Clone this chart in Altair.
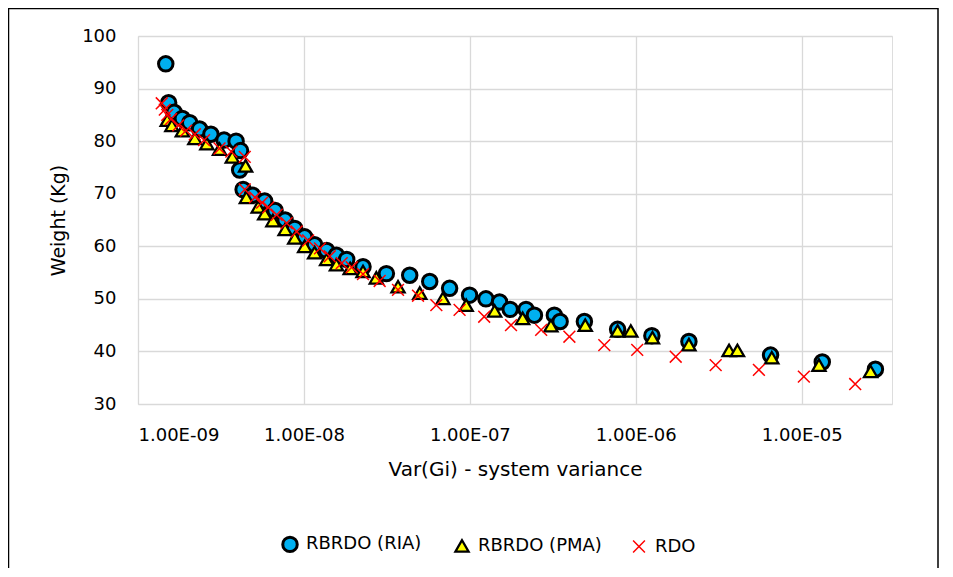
import altair as alt
import pandas as pd

# RBRDO (RIA) series
ria_x = [1.47e-9, 1.53e-9, 1.65e-9, 1.85e-9, 2.05e-9, 2.35e-9, 2.75e-9, 3.3e-9, 3.9e-9,
         4.15e-9, 4.1e-9, 4.3e-9, 4.9e-9, 5.8e-9, 6.7e-9, 7.7e-9, 8.8e-9, 1.01e-8,
         1.16e-8, 1.37e-8, 1.57e-8, 1.81e-8, 2.27e-8, 3.14e-8, 4.34e-8, 5.73e-8,
         7.55e-8, 9.96e-8, 1.25e-7, 1.51e-7, 1.75e-7, 2.18e-7, 2.45e-7, 3.23e-7,
         3.5e-7, 4.9e-7, 7.77e-7, 1.25e-6, 2.09e-6, 6.49e-6, 1.33e-5, 2.78e-5]
ria_y = [94.7, 87.3, 85.5, 84.3, 83.5, 82.3, 81.3, 80.2, 80.0,
         78.2, 74.5, 70.8, 69.7, 68.6, 66.8, 65.0, 63.4, 61.8,
         60.3, 59.2, 58.3, 57.5, 56.1, 54.8, 54.5, 53.3,
         52.0, 50.7, 50.0, 49.4, 48.0, 48.0, 46.9, 46.9,
         45.7, 45.7, 44.2, 43.0, 41.9, 39.3, 38.0, 36.6]

# RBRDO (PMA) series
pma_x = [1.5e-9, 1.6e-9, 1.85e-9, 2.2e-9, 2.6e-9, 3.1e-9, 3.7e-9, 4.45e-9, 4.5e-9,
         5.3e-9, 5.8e-9, 6.5e-9, 7.7e-9, 8.8e-9, 1.01e-8, 1.16e-8, 1.37e-8, 1.57e-8,
         1.9e-8, 2.27e-8, 2.73e-8, 3.69e-8, 4.99e-8, 6.88e-8, 9.5e-8, 1.41e-7,
         2.08e-7, 3.08e-7, 4.96e-7, 7.77e-7, 9.33e-7, 1.26e-6, 2.09e-6, 3.65e-6,
         4.1e-6, 6.6e-6, 1.27e-5, 2.6e-5]
pma_y = [84.0, 83.0, 82.0, 80.5, 79.5, 78.5, 77.0, 75.3, 69.3,
         67.5, 66.2, 64.9, 63.2, 61.6, 60.0, 58.8, 57.5, 56.5,
         55.8, 55.2, 54.0, 52.3, 51.1, 50.1, 48.8, 47.7,
         46.3, 44.9, 45.0, 43.9, 43.9, 42.6, 41.3, 40.2,
         40.2, 38.8, 37.4, 36.2]

# RDO series
rdo_x = [1.39e-9, 1.45e-9, 1.5e-9, 1.58e-9, 1.75e-9, 1.95e-9, 2.2e-9, 2.5e-9, 3.1e-9,
         3.65e-9, 4.4e-9, 4.4e-9, 5.07e-9, 5.6e-9, 6.1e-9, 6.85e-9, 7.87e-9, 9.04e-9,
         1.06e-8, 1.25e-8, 1.43e-8, 1.69e-8, 1.94e-8, 2.27e-8, 2.86e-8, 3.69e-8,
         4.87e-8, 6.28e-8, 8.67e-8, 1.22e-7, 1.77e-7, 2.69e-7, 3.98e-7, 6.46e-7,
         1.02e-6, 1.74e-6, 3.03e-6, 5.52e-6, 1.03e-5, 2.1e-5]
rdo_y = [87.2, 86.0, 85.0, 84.2, 83.0, 82.0, 81.3, 80.2, 78.6,
         78.0, 77.0, 70.8, 69.3, 68.3, 67.4, 66.0, 64.4, 62.8,
         61.1, 59.6, 58.1, 56.8, 56.0, 54.7, 53.4, 51.7,
         50.6, 48.8, 47.9, 46.6, 45.0, 44.1, 42.8, 41.2,
         40.3, 39.0, 37.4, 36.5, 35.2, 33.8]

series_names = ["RBRDO (RIA)", "RBRDO (PMA)", "RDO"]
x_ticks = [1e-9, 1e-8, 1e-7, 1e-6, 1e-5]
y_ticks = [30, 40, 50, 60, 70, 80, 90, 100]

rows = []
for name, xs, ys in zip(series_names, [ria_x, pma_x, rdo_x], [ria_y, pma_y, rdo_y]):
    for xv, yv in zip(xs, ys):
        rows.append({"series": name, "x": xv, "y": yv, "order": len(rows)})
df = pd.DataFrame(rows)

FONT = "DejaVu Sans"
W, H = 754, 368
PAD_L, PAD_T, PAD_R, PAD_B = 130, 28, 53, 164

cross_path = "M-1,-1L1,1M-1,1L1,-1"

points = alt.Chart(df).mark_point(filled=True, opacity=1).encode(
    x=alt.X("x:Q",
            scale=alt.Scale(type="log", domain=[1e-9, 3.5e-5], nice=False),
            axis=alt.Axis(values=x_ticks, title="Var(Gi) - system variance",
                          labelExpr="'1.00E-' + (round(-log(datum.value)/LN10) < 10 ? '0' : '') + round(-log(datum.value)/LN10)",
                          grid=True, gridColor="#D9D9D9", gridWidth=1.3,
                          domain=False, ticks=False, labelPadding=22,
                          labelFontSize=18, labelFont=FONT, labelColor="#000000",
                          titleFont=FONT, titleFontSize=20, titleFontWeight="normal",
                          titleColor="#000000", titlePadding=15)),
    y=alt.Y("y:Q",
            scale=alt.Scale(domain=[30, 100], nice=False, zero=False),
            axis=alt.Axis(values=y_ticks, title="Weight (Kg)",
                          grid=True, gridColor="#D9D9D9", gridWidth=1.3,
                          domain=False, ticks=False, labelPadding=22,
                          labelFontSize=18, labelFont=FONT, labelColor="#000000",
                          titleFont=FONT, titleFontSize=19, titleFontWeight="normal",
                          titleColor="#000000", titlePadding=13)),
    shape=alt.Shape("series:N", scale=alt.Scale(domain=series_names,
                    range=["circle", "triangle-up", cross_path]),
                    legend=alt.Legend(title=None, orient="none", direction="horizontal",
                                      legendX=143, legendY=499, labelFont=FONT,
                                      labelFontSize=18, labelColor="#000000",
                                      columnPadding=28, labelOffset=7)),
    fill=alt.Fill("series:N", scale=alt.Scale(domain=series_names,
                  range=["#00B0F0", "#FFFF00", "transparent"])),
    stroke=alt.Stroke("series:N", scale=alt.Scale(domain=series_names,
                      range=["#000000", "#000000", "#FF0000"])),
    size=alt.Size("series:N", scale=alt.Scale(domain=series_names,
                  range=[210, 140, 160])),
    strokeWidth=alt.StrokeWidth("series:N", scale=alt.Scale(domain=series_names,
                                range=[3, 1.5, 1.7])),
    order=alt.Order("order:Q"),
)

border = alt.Chart(pd.DataFrame({"k": [0]})).mark_rect(
    fill="transparent", stroke="#000000", strokeWidth=1.5
).encode(
    x=alt.value(-PAD_L + 0.5), x2=alt.value(W + PAD_R - 7),
    y=alt.value(-PAD_T + 0.5), y2=alt.value(H + PAD_B + 40),
)

chart = alt.layer(border, points).properties(
    width=W, height=H,
    autosize=alt.AutoSizeParams(type="none"),
    padding={"left": PAD_L, "top": PAD_T, "right": PAD_R, "bottom": PAD_B},
).configure_view(stroke="#D9D9D9", strokeWidth=1.3).configure(background="white")

chart.save("out.html", embed_options={"renderer": "svg", "actions": False})
